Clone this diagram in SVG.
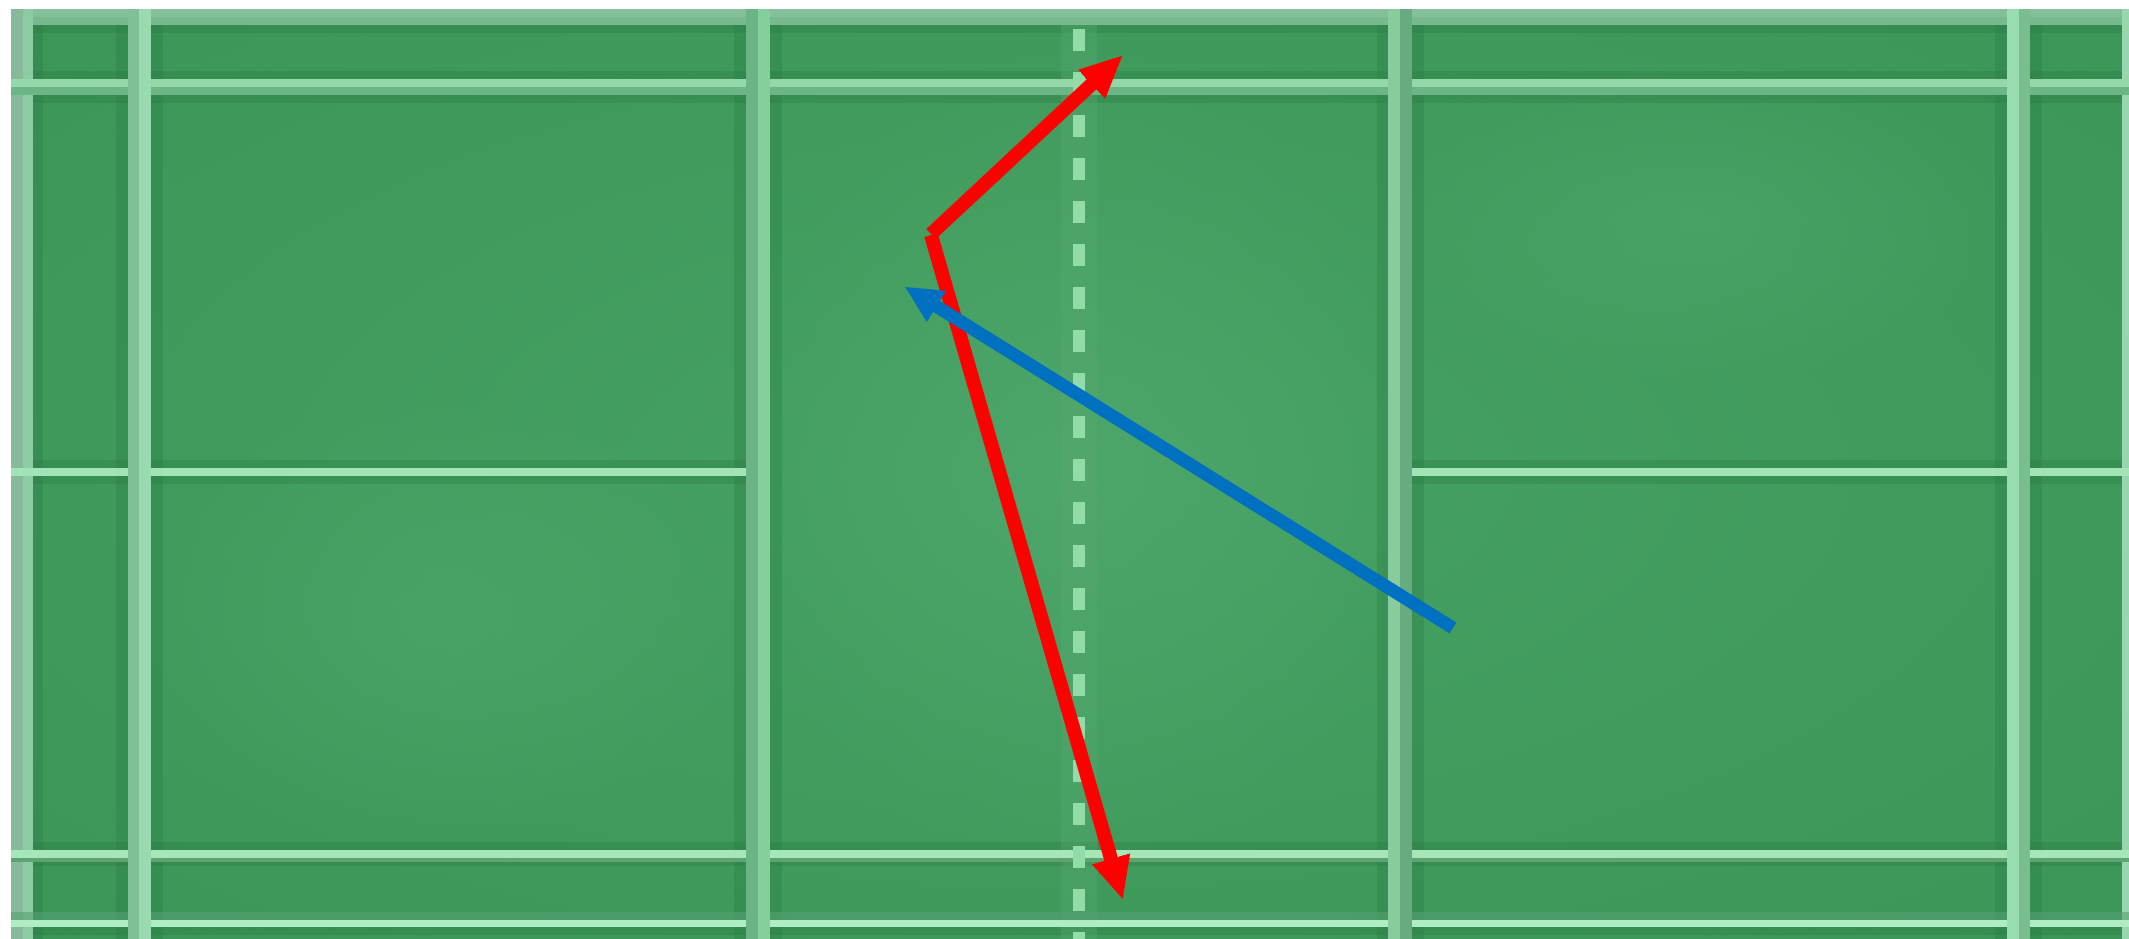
<svg xmlns="http://www.w3.org/2000/svg" width="2129" height="939" viewBox="0 0 2129 939">
<defs>
<radialGradient id="field" cx="0.5" cy="0.5" r="0.75">
<stop offset="0" stop-color="#46a264"/>
<stop offset="1" stop-color="#3a9556"/>
</radialGradient>
<radialGradient id="glow" cx="0.5" cy="0.5" r="0.5">
<stop offset="0" stop-color="#5aae74" stop-opacity="0.35"/>
<stop offset="1" stop-color="#5aae74" stop-opacity="0"/>
</radialGradient>
<marker id="headRed" markerUnits="userSpaceOnUse" markerWidth="42" markerHeight="42" viewBox="0 0 42 42" refX="1" refY="21" orient="auto">
<path d="M0,1 L42,21 L0,41 Z" fill="#ff0000"/>
</marker>
<marker id="headBlue" markerUnits="userSpaceOnUse" markerWidth="37" markerHeight="38" viewBox="0 0 37 38" refX="1" refY="19" orient="auto">
<path d="M0,0.5 L37,19 L0,37.5 Z" fill="#0070c0"/>
</marker>
</defs>
<style>
.shade{fill:#2c7a45;opacity:.35}
.hi{fill:#94d8aa}
.lo{fill:#6cb685}
.edge{fill:#86bf9b}
.dash{stroke:#92dcaa;stroke-width:12;stroke-dasharray:22 21;fill:none}
.arrow{fill:none;stroke-linecap:butt}
</style>
<rect width="2129" height="939" fill="#ffffff"/>
<g id="court">
<rect x="11" y="9" width="2118" height="930" fill="url(#field)"/>
<ellipse cx="1079" cy="470" rx="330" ry="420" fill="url(#glow)"/>
<ellipse cx="440" cy="620" rx="300" ry="220" fill="url(#glow)"/>
<ellipse cx="1700" cy="220" rx="300" ry="160" fill="url(#glow)"/>
<rect class="shade" x="11" y="25" width="2118" height="8"/>
<rect class="shade" x="11" y="71" width="2118" height="8"/>
<rect class="shade" x="11" y="95" width="2118" height="8"/>
<rect class="shade" x="11" y="460" width="747" height="8"/>
<rect class="shade" x="11" y="476" width="747" height="8"/>
<rect class="shade" x="1400" y="460" width="729" height="8"/>
<rect class="shade" x="1400" y="476" width="729" height="8"/>
<rect class="shade" x="11" y="842" width="2118" height="8"/>
<rect class="shade" x="11" y="858" width="2118" height="8"/>
<rect class="shade" x="11" y="927" width="2118" height="8"/>
<rect class="shade" x="33" y="9" width="10" height="930"/>
<rect class="shade" x="116" y="9" width="12" height="930"/>
<rect class="shade" x="151" y="9" width="12" height="930"/>
<rect class="shade" x="734" y="9" width="12" height="930"/>
<rect class="shade" x="770" y="9" width="12" height="930"/>
<rect class="shade" x="1377" y="9" width="11" height="930"/>
<rect class="shade" x="1412" y="9" width="12" height="930"/>
<rect class="shade" x="1995" y="9" width="12" height="930"/>
<rect class="shade" x="2030" y="9" width="12" height="930"/>
<rect x="1061" y="9" width="36" height="930" fill="#5aa874" opacity="0.35"/>
<rect class="edge" x="11" y="9" width="2118" height="8"/>
<rect x="11" y="17" width="2118" height="8" fill="#78b98f"/>
<rect x="11" y="9" width="12" height="930" fill="#88b99a"/>
<rect x="23" y="9" width="10" height="930" fill="#8dcca3"/>
<rect x="2122" y="9" width="7" height="930" fill="#98d6ad"/>
<rect class="hi" x="11" y="79" width="2118" height="8"/>
<rect class="lo" x="11" y="87" width="2118" height="8"/>
<rect x="11" y="468" width="747" height="8" fill="#a2e4b6"/>
<rect x="1400" y="468" width="729" height="8" fill="#a2e4b6"/>
<rect x="11" y="850" width="2118" height="8" fill="#a6e6b9"/>
<rect x="11" y="858" width="2118" height="4" fill="#5ea473"/>
<rect x="11" y="920" width="2118" height="7" fill="#b0ecc4"/>
<rect x="11" y="912" width="2118" height="8" fill="#55a070" opacity="0.6"/>
<rect x="128" y="9" width="11" height="930" fill="#80c096"/>
<rect x="139" y="9" width="12" height="930" fill="#9adab0"/>
<rect x="746" y="9" width="12" height="930" fill="#6ab486"/>
<rect x="758" y="9" width="12" height="930" fill="#84d09c"/>
<rect x="1388" y="9" width="12" height="930" fill="#88cc9e"/>
<rect x="1400" y="9" width="12" height="930" fill="#66ac80"/>
<rect x="2007" y="9" width="12" height="930" fill="#98deb0"/>
<rect x="2019" y="9" width="11" height="930" fill="#78be8e"/>
<line class="dash" x1="1079" y1="17" x2="1079" y2="939" stroke-dashoffset="-12"/>
</g>
<g id="connectors">
<line class="arrow" x1="931" y1="234" x2="1092.3" y2="83.6" stroke="#ff0000" stroke-width="14" marker-end="url(#headRed)"/>
<line class="arrow" x1="931" y1="235" x2="1111.3" y2="859.7" stroke="#ff0000" stroke-width="14" marker-end="url(#headRed)"/>
<line class="arrow" x1="1453" y1="628" x2="935.8" y2="306" stroke="#0070c0" stroke-width="13" marker-end="url(#headBlue)"/>
</g>
</svg>
